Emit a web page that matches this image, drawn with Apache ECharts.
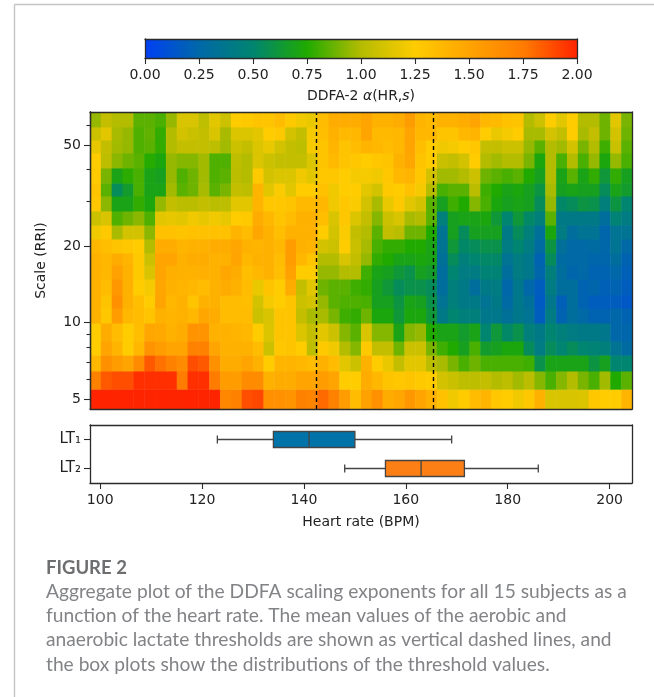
<!DOCTYPE html>
<html><head><meta charset="utf-8">
<style>html,body{margin:0;padding:0;background:#fff}#c{width:654px;height:697px}</style>
<script src="https://cdn.jsdelivr.net/npm/echarts@6/dist/echarts.min.js"></script>
</head><body><div id="c"></div>
<script>
const hrMin = 98, hrMax = 204.4;
const hrTicks = [100,120,140,160,180,200];
const scaleMajor = [5,10,20,50];
const scaleMinor = [6,7,8,9,30,40,60];
const rowEdges = [4.57,5.47,6.45,7.45,8.46,9.96,11.41,12.84,14.84,16.85,18.79,21.33,24.2,27.5,31.5,35.4,40.6,46.5,52.3,58.9,67.4];
const thresholds = [142.4,165.3];
const colorStops = ['#0040f4','#0068a8','#008570','#20aa00','#b4bc00','#ffcc00','#ffa400','#ff7c00','#ff2400'];
const boxNames = ['LT\u2081','LT\u2082'];
const lt1Box = [123,134,141,150,169];
const lt2Box = [148,156,163,171.5,186];
const boxColors = ['#0173a8','#fb7f14'];
// rows listed from the top of the heat map to the bottom
const row19 = [.95,1.05,1,1,.85,.85,.82,.95,1.12,1.12,1.03,1.15,1.08,1.25,1.27,1.3,1.3,1.35,1.27,1.2,1.18,1.35,1.45,1.45,1.45,1.5,1.42,1.42,1.45,1.55,1.4,1.36,1.42,1.42,1.45,1.5,1.38,1.36,1.32,1.3,1,1.08,1.25,1.15,1.25,1,1,.88,1.15,.9];
const row18 = [1.08,1.15,.98,.95,.83,.86,.78,1,1.1,1.07,1.05,1.12,.98,1.13,1.13,1.16,1.25,1.27,1.1,1.05,1.22,1.33,1.42,1.36,1.38,1.5,1.36,1.36,1.38,1.5,1.38,1.38,1.3,1.3,1.38,1.4,1.25,1.18,1.22,1.25,.98,.98,1.1,1.05,1.25,.98,1.05,.88,1.1,.88];
const row17 = [1.17,1.05,.97,.95,.83,.85,.78,1,1.05,1.05,1.05,1.03,.97,1.08,1.05,1.13,1.18,1.1,1.05,1.03,1.22,1.3,1.4,1.3,1.35,1.4,1.38,1.35,1.38,1.5,1.33,1.25,1.2,1.22,1.25,1.28,1.05,1.05,1.08,1.08,.95,.85,1,.97,1.1,.9,1,.8,1.07,.85];
const row16 = [1.25,1.03,.93,.88,.85,.76,.72,.95,.92,.92,.97,.83,.83,1.03,1,1.13,1.08,1.05,1.05,1.05,1.13,1.3,1.36,1.3,1.28,1.25,1.28,1.3,1.42,1.48,1.3,1.25,1.07,1.05,1.1,1.25,1,.97,1,1,.9,.72,1,.82,1,.82,.95,.72,.95,.82];
const row15 = [1.27,.9,.7,.77,.82,.7,.68,.95,.83,.88,.97,.83,.85,1.02,1,1.27,1.1,1.13,1.13,1.2,1.15,1.28,1.28,1.25,1.22,1.22,1.2,1.28,1.38,1.4,1.28,1.1,.97,.97,1,1.08,.88,.85,.82,.85,.75,.68,1,.7,.85,.7,.78,.62,.78,.68];
const row14 = [1.3,.85,.55,.65,.82,.7,.7,.97,.85,.88,.98,.85,.9,1.05,1.03,1.4,1.15,1.23,1.15,1.25,1.25,1.32,1.2,1.25,1.25,1.15,1.1,1.27,1.25,1.32,1.22,1,.82,.85,.85,1.02,.8,.75,.7,.72,.68,.6,.98,.68,.7,.68,.68,.55,.7,.65];
const row13 = [1.28,.93,.7,.7,.78,.72,.95,1.05,1.02,1.02,1.05,1.02,1.03,1.15,1.15,1.4,1.28,1.28,1.3,1.36,1.36,1.38,1.2,1.28,1.23,1.1,.98,1.18,1.27,1.15,1.1,.85,.68,.8,.75,.92,.82,.72,.68,.7,.68,.55,.95,.52,.55,.6,.58,.45,.6,.5];
const row12 = [1.08,1.12,.83,.88,.93,.83,1.15,1.17,1.15,1.2,1.17,1.2,1.17,1.25,1.27,1.45,1.38,1.3,1.35,1.42,1.42,1.33,1.12,1.28,1.13,1.05,.92,1.08,1.12,.98,1,.85,.45,.68,.7,.7,.72,.62,.5,.62,.52,.45,.85,.4,.4,.4,.4,.3,.48,.42];
const row11 = [1.2,1.27,.98,1.1,1.1,.93,1.32,1.32,1.3,1.32,1.32,1.32,1.32,1.4,1.35,1.48,1.42,1.33,1.42,1.42,1.42,1.25,1.1,1.23,1.05,1,.85,1.05,1.02,.88,.88,.75,.35,.68,.55,.68,.68,.68,.4,.55,.45,.32,.72,.42,.3,.35,.35,.24,.35,.35];
const row10 = [1.38,1.33,1.3,1.28,1.25,1,1.45,1.45,1.4,1.42,1.42,1.45,1.45,1.48,1.42,1.4,1.42,1.38,1.55,1.42,1.4,1.1,1.08,1.25,1.07,.98,.82,.78,.78,.75,.75,.7,.35,.62,.52,.55,.58,.58,.42,.5,.42,.28,.6,.32,.26,.26,.28,.25,.35,.26];
const row9 = [1.42,1.38,1.45,1.4,1.27,1.08,1.5,1.5,1.42,1.45,1.45,1.42,1.42,1.5,1.38,1.42,1.42,1.35,1.55,1.38,1.3,1,1,1.12,1.05,.95,.78,.75,.7,.7,.72,.7,.33,.55,.45,.5,.52,.52,.35,.42,.38,.22,.55,.28,.26,.26,.24,.24,.3,.22];
const row8 = [1.42,1.38,1.52,1.42,1.27,1.12,1.5,1.43,1.42,1.42,1.43,1.42,1.48,1.45,1.33,1.38,1.42,1.33,1.52,1.25,1.25,.95,.95,1,1,.8,.7,.68,.62,.58,.68,.65,.3,.5,.42,.42,.48,.48,.3,.42,.38,.24,.45,.3,.24,.26,.22,.22,.25,.2];
const row7 = [1.42,1.35,1.58,1.42,1.25,1.22,1.48,1.42,1.4,1.38,1.35,1.42,1.45,1.42,1.35,1.18,1.3,1.25,1.45,1.05,1.15,.88,.85,.85,.8,.78,.68,.62,.55,.58,.58,.55,.3,.45,.4,.3,.4,.42,.25,.38,.25,.18,.42,.3,.3,.22,.24,.2,.22,.18];
const row6 = [1.42,1.3,1.62,1.42,1.33,1.25,1.5,1.38,1.42,1.3,1.42,1.42,1.35,1.35,1.33,1.1,1.22,1.25,1.3,1.08,1.1,.95,.85,.83,.83,.82,.68,.68,.6,.7,.68,.58,.35,.45,.4,.4,.35,.4,.27,.38,.32,.16,.38,.2,.3,.22,.18,.18,.18,.15];
const row5 = [1.42,1.28,1.55,1.38,1.35,1.3,1.42,1.4,1.42,1.38,1.48,1.45,1.35,1.35,1.35,1.08,1.12,1.3,1.3,1.05,.98,.98,.9,.8,.78,.88,.72,.72,.62,.72,.72,.62,.4,.5,.45,.45,.38,.38,.32,.38,.35,.18,.42,.22,.3,.26,.22,.22,.25,.22];
const row4 = [1.25,1.45,1.35,1.25,1.33,1.48,1.47,1.42,1.45,1.6,1.6,1.42,1.42,1.4,1.38,1.25,1.13,1.3,1.3,1.13,1.05,1.15,1.08,.92,.85,1.12,.92,.92,.7,.92,.95,.75,.7,.7,.65,.7,.5,.62,.52,.58,.45,.4,.5,.45,.42,.4,.4,.38,.25,.24];
const row3 = [1.25,1.5,1.4,1.25,1.38,1.6,1.55,1.5,1.5,1.72,1.72,1.5,1.42,1.42,1.42,1.35,1.08,1.28,1.3,1.25,1.03,1.27,1.2,1,.92,1.27,1.05,1.05,.88,1.08,1.08,.9,.8,.75,.68,.82,.65,.68,.72,.72,.55,.42,.55,.5,.55,.5,.48,.45,.35,.28];
const row2 = [1.38,1.62,1.55,1.5,1.65,1.85,1.78,1.72,1.65,1.88,1.85,1.62,1.45,1.45,1.5,1.42,1.25,1.4,1.4,1.38,1.35,1.42,1.35,1.15,1.08,1.42,1.25,1.18,1.05,1.15,1.15,1.02,.98,.9,.82,.88,.82,.82,.82,.82,.8,.58,.7,.7,.7,.7,.6,.68,.5,.5];
const row1 = [1.72,1.85,1.88,1.88,1.97,1.97,1.97,1.97,1.75,1.97,1.97,1.75,1.55,1.55,1.65,1.65,1.42,1.45,1.45,1.5,1.5,1.55,1.5,1.25,1.25,1.45,1.38,1.3,1.28,1.3,1.27,1.25,1.1,1.07,1.03,1.03,1.05,1,1.03,.97,1.02,.92,.82,.92,1,.9,.82,.97,.75,.85];
const row0 = [2,2,2,2,2,2,2,2,2,2,2,2,1.68,1.72,1.88,1.9,1.62,1.62,1.6,1.72,1.7,1.8,1.72,1.55,1.35,1.52,1.62,1.45,1.48,1.58,1.5,1.42,1.32,1.2,1.25,1.35,1.4,1.28,1.25,1.2,1.28,1.42,1.12,1.12,1.12,1.13,1.28,1.25,1.25,1.4];
const rows = [row0,row1,row2,row3,row4,row5,row6,row7,row8,row9,row10,row11,row12,row13,row14,row15,row16,row17,row18,row19];
const captionTitle = 'FIGURE 2';
const captionLines = [
 'Aggregate plot of the DDFA scaling exponents for all 15 subjects as a',
 'function of the heart rate. The mean values of the aerobic and',
 'anaerobic lactate thresholds are shown as vertical dashed lines, and',
 'the box plots show the distributions of the threshold values.'];

const FONT = '"DejaVu Sans"', INK = '#222', LINE = '#2a2a2a';
const cols = rows[0].length, step = (hrMax-hrMin)/cols;
const heat = [];
rows.forEach((r,j)=>r.forEach((v,i)=>heat.push([hrMin+i*step,hrMin+(i+1)*step,rowEdges[j],rowEdges[j+1],v])));

const chart = echarts.init(document.getElementById('c'),null,{renderer:'canvas'});
const frameAxis = (o)=>Object.assign({z:6,axisLine:{show:true,onZero:false,lineStyle:{color:LINE,width:1.3}},axisTick:{show:false},axisLabel:{show:false},splitLine:{show:false}},o);
const tickLook = {color:LINE,width:1.1};
const labelLook = {color:INK,fontFamily:FONT,fontSize:14};

chart.setOption({
 animation:false,backgroundColor:'#fff',
 grid:[
  {left:90,right:22,top:112,height:297},
  {left:90,right:22,top:425,height:58},
  {left:145,right:77,top:39,height:19}
 ],
 graphic:[
  {type:'line',silent:true,shape:{x1:14.5,y1:4.5,x2:654,y2:4.5},style:{stroke:'#c4c4c4',lineWidth:1.4}},
  {type:'line',silent:true,shape:{x1:14.5,y1:4.5,x2:14.5,y2:697},style:{stroke:'#c4c4c4',lineWidth:1.4}}
 ],
 title:[
  {text:captionTitle,left:46,top:559,padding:0,textStyle:{fontFamily:'Lato',fontWeight:'bold',fontSize:18.5,color:'#6d6e70'}},
  ...captionLines.map((t,i)=>({text:t,left:46,top:582+i*24.3,padding:0,textStyle:{fontFamily:'Lato',fontWeight:'normal',fontSize:19.2,color:'#828386'}}))
 ],
 xAxis:[
  frameAxis({type:'value',gridIndex:0,min:hrMin,max:hrMax,position:'bottom'}),
  frameAxis({type:'value',gridIndex:0,min:hrMin,max:hrMax,position:'top'}),
  frameAxis({type:'value',gridIndex:1,min:hrMin,max:hrMax,position:'bottom',
    axisTick:{show:true,customValues:hrTicks,length:6,lineStyle:tickLook},
    axisLabel:Object.assign({show:true,customValues:hrTicks,margin:10},labelLook),
    name:'Heart rate (BPM)',nameLocation:'middle',nameGap:32,nameTextStyle:labelLook}),
  frameAxis({type:'value',gridIndex:1,min:hrMin,max:hrMax,position:'top'}),
  frameAxis({type:'value',gridIndex:2,min:0,max:2,interval:.25,position:'bottom',
    axisTick:{show:true,length:6,lineStyle:tickLook},
    axisLabel:Object.assign({show:true,margin:10,formatter:v=>v.toFixed(2)},labelLook),
    name:'DDFA-2 {i|\u03b1}(HR,{i|s})',nameLocation:'middle',nameGap:31,
    nameTextStyle:Object.assign({},labelLook,{rich:{i:Object.assign({},labelLook,{fontStyle:'italic'})}})}),
  frameAxis({type:'value',gridIndex:2,min:0,max:2,position:'top'})
 ],
 yAxis:[
  frameAxis({type:'log',gridIndex:0,logBase:10,min:rowEdges[0],max:rowEdges[rowEdges.length-1],position:'left',
    axisTick:{show:true,customValues:scaleMajor,length:6,lineStyle:tickLook},
    axisLabel:Object.assign({show:true,customValues:scaleMajor,margin:9},labelLook),
    name:'Scale (RRI)',nameLocation:'middle',nameGap:42,nameRotate:90,nameTextStyle:labelLook}),
  frameAxis({type:'log',gridIndex:0,logBase:10,min:rowEdges[0],max:rowEdges[rowEdges.length-1],position:'left',
    axisTick:{show:true,customValues:scaleMinor,length:3.5,lineStyle:tickLook}}),
  frameAxis({type:'log',gridIndex:0,logBase:10,min:rowEdges[0],max:rowEdges[rowEdges.length-1],position:'right'}),
  frameAxis({type:'category',gridIndex:1,data:boxNames,inverse:true,position:'left',
    axisTick:{show:true,alignWithLabel:true,length:6,lineStyle:tickLook},
    axisLabel:Object.assign({show:true,margin:9},labelLook,{fontSize:15})}),
  frameAxis({type:'category',gridIndex:1,data:boxNames,inverse:true,position:'right'}),
  frameAxis({type:'value',gridIndex:2,min:0,max:1,position:'left'}),
  frameAxis({type:'value',gridIndex:2,min:0,max:1,position:'right'})
 ],
 visualMap:{show:false,type:'continuous',seriesIndex:0,dimension:4,min:0,max:2,inRange:{color:colorStops}},
 series:[
  {type:'custom',xAxisIndex:0,yAxisIndex:0,z:1,data:heat,encode:{x:[0,1],y:[2,3]},silent:true,
   renderItem(p,api){
    const a=api.coord([api.value(0),api.value(2)]),b=api.coord([api.value(1),api.value(3)]);
    return {type:'rect',shape:{x:a[0],y:b[1],width:b[0]-a[0]+.5,height:a[1]-b[1]+.5},style:{fill:api.visual('color')}};
   },
   markLine:{silent:true,symbol:'none',z:5,label:{show:false},
    lineStyle:{color:'#000',type:[4,3],width:1.4},
    data:thresholds.map(x=>({xAxis:x}))}
  },
  {type:'custom',xAxisIndex:2,yAxisIndex:3,z:3,silent:true,
   data:[lt1Box,lt2Box].map((b,i)=>[i,...b]),encode:{x:[1,2,3,4,5],y:0},
   renderItem(p,api){
    const i=api.value(0),v=[1,2,3,4,5].map(d=>api.coord([api.value(d),i])),y=v[0][1],h=8,c=4;
    const ln=(x1,y1,x2,y2)=>({type:'line',shape:{x1,y1,x2,y2},style:{stroke:'#444',lineWidth:1.3}});
    return {type:'group',children:[
     ln(v[0][0],y,v[1][0],y),ln(v[3][0],y,v[4][0],y),
     ln(v[0][0],y-c,v[0][0],y+c),ln(v[4][0],y-c,v[4][0],y+c),
     {type:'rect',shape:{x:v[1][0],y:y-h,width:v[3][0]-v[1][0],height:2*h},style:{fill:boxColors[i],stroke:'#444',lineWidth:1.3}},
     ln(v[2][0],y-h,v[2][0],y+h)]};
   }},
  {type:'custom',xAxisIndex:4,yAxisIndex:5,z:1,silent:true,data:[[0,2]],encode:{x:[0,1]},
   renderItem(p,api){
    const a=api.coord([api.value(0),0]),b=api.coord([api.value(1),1]);
    return {type:'rect',shape:{x:a[0],y:b[1],width:b[0]-a[0],height:a[1]-b[1]},
     style:{fill:new echarts.graphic.LinearGradient(0,0,1,0,colorStops.map((color,i)=>({offset:i/(colorStops.length-1),color})))}};
   }}
 ]
});
</script></body></html>
